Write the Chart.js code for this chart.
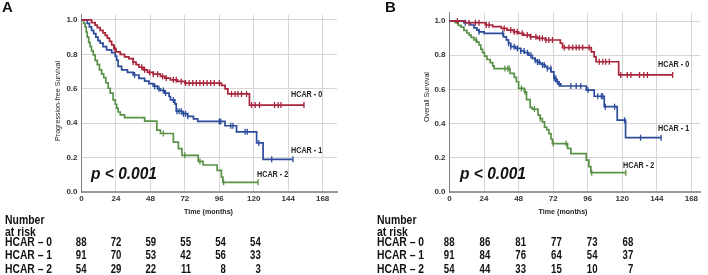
<!DOCTYPE html>
<html>
<head>
<meta charset="utf-8">
<script src="https://cdn.jsdelivr.net/npm/chart.js@4.4.1/dist/chart.umd.min.js"></script>
<style>
  body { margin: 0; background: #fff; }
  #wrap { position: relative; width: 708px; height: 275px; }
  canvas { position: absolute; top: 0; }
</style>
</head>
<body>
<div id="wrap">
  <canvas id="graficoA" width="354" height="275" style="left:0"></canvas>
  <canvas id="graficoB" width="354" height="275" style="left:354px"></canvas>
</div>
<script>
// Tick e tabella "number at risk"
const tickMesi = [0, 24, 48, 72, 96, 120, 144, 168];
const colRischio = [0, 24, 48, 72, 96, 120];
const righeRischio = ['HCAR \u2013 0', 'HCAR \u2013 1', 'HCAR \u2013 2'];
const etichetteGruppi = ['HCAR - 0', 'HCAR - 1', 'HCAR - 2'];

const rischioPfs0 = [88, 72, 59, 55, 54, 54];
const rischioPfs1 = [91, 70, 53, 42, 56, 33];
const rischioPfs2 = [54, 29, 22, 11, 8, 3];
const rischioOs0 = [88, 86, 81, 77, 73, 68];
const rischioOs1 = [91, 84, 76, 64, 54, 37];
const rischioOs2 = [54, 44, 33, 15, 10, 7];

// A - Progression-free survival (tempi in mesi, sopravvivenza dopo il gradino)
const pfsT0 = [0, 7, 9.5, 11, 13, 15, 16.5, 18, 19.5, 21, 22.5, 24, 27, 30, 33, 36, 38, 40, 43, 46, 50, 55, 58, 62, 67, 72, 97.5, 100, 102, 117, 155];
const pfsS0 = [1, 0.985, 0.97, 0.955, 0.94, 0.925, 0.91, 0.895, 0.875, 0.855, 0.835, 0.815, 0.8, 0.785, 0.775, 0.755, 0.74, 0.725, 0.71, 0.695, 0.685, 0.672, 0.662, 0.652, 0.643, 0.633, 0.62, 0.6, 0.57, 0.505, 0.505];
const pfsC0 = [23, 36, 42, 44, 47.5, 50, 53, 56.5, 59, 64, 66, 69.5, 72.5, 75, 77.5, 80, 82.5, 85, 87.5, 90, 92.5, 96, 104.5, 107, 109, 111.5, 115, 118.5, 121, 124, 134.5, 137, 139, 155];

const pfsT1 = [0, 4, 5.5, 7, 8.5, 10, 11.5, 13, 15, 17.5, 21, 23.5, 24.5, 25.5, 28, 32, 36, 40, 44, 47, 50, 53, 55, 58, 61, 62, 65, 66, 70, 74, 78, 81, 100, 108, 122, 126.5, 147.3];
const pfsS1 = [1, 0.98, 0.96, 0.94, 0.92, 0.9, 0.88, 0.865, 0.845, 0.826, 0.81, 0.79, 0.767, 0.73, 0.71, 0.695, 0.68, 0.66, 0.645, 0.63, 0.615, 0.6, 0.59, 0.575, 0.555, 0.535, 0.512, 0.47, 0.455, 0.44, 0.425, 0.41, 0.385, 0.35, 0.285, 0.19, 0.19];
const pfsC1 = [37, 51, 54, 57, 58.5, 64, 66.5, 68, 69.5, 71, 72.5, 74, 96, 97, 104, 105.5, 114, 115.5, 123.5, 132.5, 147.3];

const pfsT2 = [0, 1.5, 2.5, 3.3, 4, 5, 6, 7, 8.2, 9.5, 11, 12.5, 14, 15.5, 17, 18.6, 20, 22, 23.5, 24.5, 25.5, 27, 30, 44, 52.5, 55, 64, 67.5, 70, 81.3, 84.7, 94.5, 97.5, 98.5, 123];
const pfsS2 = [1, 0.98, 0.96, 0.93, 0.9, 0.87, 0.845, 0.82, 0.797, 0.765, 0.74, 0.71, 0.685, 0.665, 0.635, 0.603, 0.575, 0.535, 0.51, 0.487, 0.465, 0.448, 0.432, 0.412, 0.36, 0.34, 0.29, 0.252, 0.213, 0.178, 0.157, 0.126, 0.087, 0.056, 0.056];
const pfsC2 = [57, 72, 82.5, 99, 123];

// B - Overall survival
const osT0 = [0, 11, 25, 30, 36, 40, 44.5, 48, 51.5, 56, 61, 66.5, 77, 78.5, 98.5, 100.5, 101.8, 117.5, 155];
const osS0 = [1, 0.99, 0.977, 0.967, 0.957, 0.947, 0.937, 0.928, 0.918, 0.908, 0.899, 0.889, 0.87, 0.845, 0.82, 0.79, 0.762, 0.685, 0.685];
const osC0 = [5.5, 13.5, 18, 20.5, 25.5, 27.5, 38, 42.5, 45, 47, 50.5, 54, 56.5, 60, 62.5, 64.5, 67, 69, 71.5, 79.7, 83, 85.5, 88, 90, 92.5, 97, 104, 106.5, 108.5, 111, 119, 123.5, 126, 132, 135, 137.5, 155];

const osT1 = [0, 10, 14.5, 17, 19, 20.5, 24, 37.5, 39.5, 41, 42.5, 46, 49.5, 52, 55, 57.5, 59.5, 61, 63, 64.5, 66.5, 68, 70.5, 72.5, 74, 75.5, 77.3, 95, 100.5, 107.5, 116.5, 122.3, 147];
const osS1 = [1, 0.99, 0.977, 0.96, 0.947, 0.937, 0.928, 0.908, 0.89, 0.87, 0.85, 0.84, 0.825, 0.815, 0.8, 0.782, 0.77, 0.76, 0.75, 0.743, 0.733, 0.723, 0.703, 0.665, 0.645, 0.632, 0.62, 0.596, 0.56, 0.499, 0.42, 0.318, 0.318];
const osC1 = [11, 20.5, 37, 41, 42.6, 44.9, 47.2, 49.5, 51.8, 54.1, 56.5, 59.5, 61.1, 62.3, 64.6, 65.8, 68, 70.4, 72.7, 73.9, 75, 76.2, 84.3, 88, 91.2, 96.2, 103, 105.5, 106.5, 108.2, 114.7, 121.6, 132.7, 147];

const osT2 = [0, 4, 6, 8, 10, 12, 13.6, 15, 17, 19, 20.5, 21.8, 23, 24.3, 26, 28.3, 30, 31, 42, 45, 46.5, 48, 52, 53.5, 56, 57.5, 61.5, 63, 64.5, 66, 67.5, 69, 70.5, 71.5, 82, 84.3, 95, 96.8, 98.2, 122.5];
const osS2 = [1, 0.99, 0.975, 0.965, 0.945, 0.93, 0.918, 0.905, 0.889, 0.877, 0.86, 0.835, 0.815, 0.795, 0.775, 0.757, 0.738, 0.722, 0.694, 0.67, 0.645, 0.606, 0.586, 0.54, 0.495, 0.485, 0.45, 0.43, 0.41, 0.38, 0.365, 0.342, 0.31, 0.283, 0.255, 0.225, 0.187, 0.148, 0.113, 0.113];
const osC2 = [18.5, 38.5, 40.5, 41.5, 50, 52.5, 59, 63, 72, 81, 98.8, 122.5];

const colori = ['#a8243a', '#2b4b9b', '#5a9148'];
const font = '"Liberation Sans", Arial, sans-serif';

function kmPunti(tempi, surv) {
    return tempi.map((t, i) => ({ x: t, y: surv[i] }));
}

// valore della curva al tempo della censura
function censPunti(cens, tempi, surv) {
    return cens.map(c => {
        let v = surv[0];
        for (let i = 0; i < tempi.length; i++) {
            if (tempi[i] <= c) v = surv[i];
        }
        return { x: c, y: v };
    });
}

function testo(ctx, s, x, y, f, sx, align, colore) {
    ctx.save();
    ctx.translate(x, y);
    ctx.scale(sx, 1);
    ctx.font = f;
    ctx.fillStyle = colore || '#111';
    ctx.textAlign = align || 'left';
    ctx.textBaseline = 'middle';
    ctx.fillText(s, 0, 0);
    ctx.restore();
}

function creaGrafico(id, cfg) {
    const datasets = [];
    cfg.curve.forEach((c, i) => {
        datasets.push({
            data: kmPunti(c[0], c[1]),
            stepped: true,
            borderColor: colori[i],
            borderWidth: 1.7,
            pointRadius: 0,
            fill: false
        });
        datasets.push({
            data: censPunti(c[2], c[0], c[1]),
            showLine: false,
            pointStyle: 'line',
            rotation: 90,
            pointRadius: 3,
            pointBorderWidth: 1.3,
            pointBorderColor: colori[i],
            pointBackgroundColor: colori[i]
        });
    });

    const annotazioni = {
        id: 'annotazioni',
        afterDraw(chart) {
            const ctx = chart.ctx;
            const xs = chart.scales.x;
            testo(ctx, cfg.lettera, cfg.letteraX, 8, 'bold 15px ' + font, 1);

            ctx.save();
            ctx.translate(cfg.titoloY[0], cfg.titoloY[1]);
            ctx.rotate(-Math.PI / 2);
            testo(ctx, cfg.titolo, 0, 0, '7.5px ' + font, 0.95, 'center', '#222');
            ctx.restore();

            testo(ctx, 'p < 0.001', cfg.pX, 175, 'italic bold 16px ' + font, 0.97);
            etichetteGruppi.forEach((g, i) => {
                testo(ctx, g, cfg.etichette[i][0], cfg.etichette[i][1], 'bold 9px ' + font, 0.8, 'left', '#222');
            });
            testo(ctx, 'Time (months)', cfg.tempoX, 212, 'bold 7.5px ' + font, 0.95, 'center', '#222');

            // Tabella number at risk
            const fr = 'bold 12px ' + font;
            testo(ctx, 'Number', cfg.tabX, 221, fr, 0.87);
            testo(ctx, 'at risk', cfg.tabX, 232.5, fr, 0.87);
            const yRighe = [242.5, 256, 269.5];
            righeRischio.forEach((r, i) => {
                testo(ctx, r, cfg.tabX, yRighe[i], fr, 0.86);
                cfg.rischio[i].forEach((n, j) => {
                    const px = xs.getPixelForValue(colRischio[j]) + 5 + j * cfg.spostaCol;
                    testo(ctx, String(n), px, yRighe[i], fr, 0.8, 'right');
                });
            });
        }
    };

    const fontTick = { family: font, size: 8, weight: 'bold' };

    new Chart(document.getElementById(id).getContext('2d'), {
        type: 'line',
        data: { datasets: datasets },
        options: {
            responsive: false,
            animation: false,
            layout: { padding: { left: 0, right: cfg.padDx, top: cfg.padSu, bottom: 0 } },
            plugins: { legend: { display: false }, tooltip: { enabled: false } },
            scales: {
                x: {
                    type: 'linear',
                    min: 0,
                    max: cfg.xMax,
                    afterFit: s => { s.height = 83; },
                    afterBuildTicks: s => { s.ticks = tickMesi.map(v => ({ value: v })); },
                    ticks: { stepSize: 24, includeBounds: false, padding: 2, maxRotation: 0, autoSkip: false, font: fontTick, color: '#333' },
                    grid: { color: '#d6d6d6', drawTicks: false },
                    border: { color: '#9a9a9a', width: 2 }
                },
                y: {
                    min: 0,
                    max: cfg.yMax,
                    afterFit: s => { s.width = cfg.sinistra; },
                    ticks: { stepSize: 0.2, includeBounds: false, padding: 4, font: fontTick, color: '#333', callback: v => v.toFixed(1) },
                    grid: { color: '#d6d6d6', drawTicks: false },
                    border: { color: '#808080', width: 1 }
                }
            }
        },
        plugins: [annotazioni]
    });
}

creaGrafico('graficoA', {
    curve: [[pfsT0, pfsS0, pfsC0], [pfsT1, pfsS1, pfsC1], [pfsT2, pfsS2, pfsC2]],
    rischio: [rischioPfs0, rischioPfs1, rischioPfs2],
    lettera: 'A', letteraX: 2,
    titolo: 'Progression-free Survival', titoloY: [58, 101],
    pX: 91, tempoX: 208.5, tabX: 5, spostaCol: 0.4,
    etichette: [[291, 95], [291, 151], [257, 175]],
    xMax: 178, yMax: 1.03, sinistra: 81.5, padDx: 17, padSu: 14.8
});

creaGrafico('graficoB', {
    curve: [[osT0, osS0, osC0], [osT1, osS1, osC1], [osT2, osS2, osC2]],
    rischio: [rischioOs0, rischioOs1, rischioOs2],
    lettera: 'B', letteraX: 31,
    titolo: 'Overall Survival', titoloY: [73, 97],
    pX: 106, tempoX: 209, tabX: 23, spostaCol: 1.2,
    etichette: [[304, 65], [304, 129], [269, 166]],
    xMax: 174, yMax: 1.05, sinistra: 95.5, padDx: 8, padSu: 12.5
});
</script>
</body>
</html>
